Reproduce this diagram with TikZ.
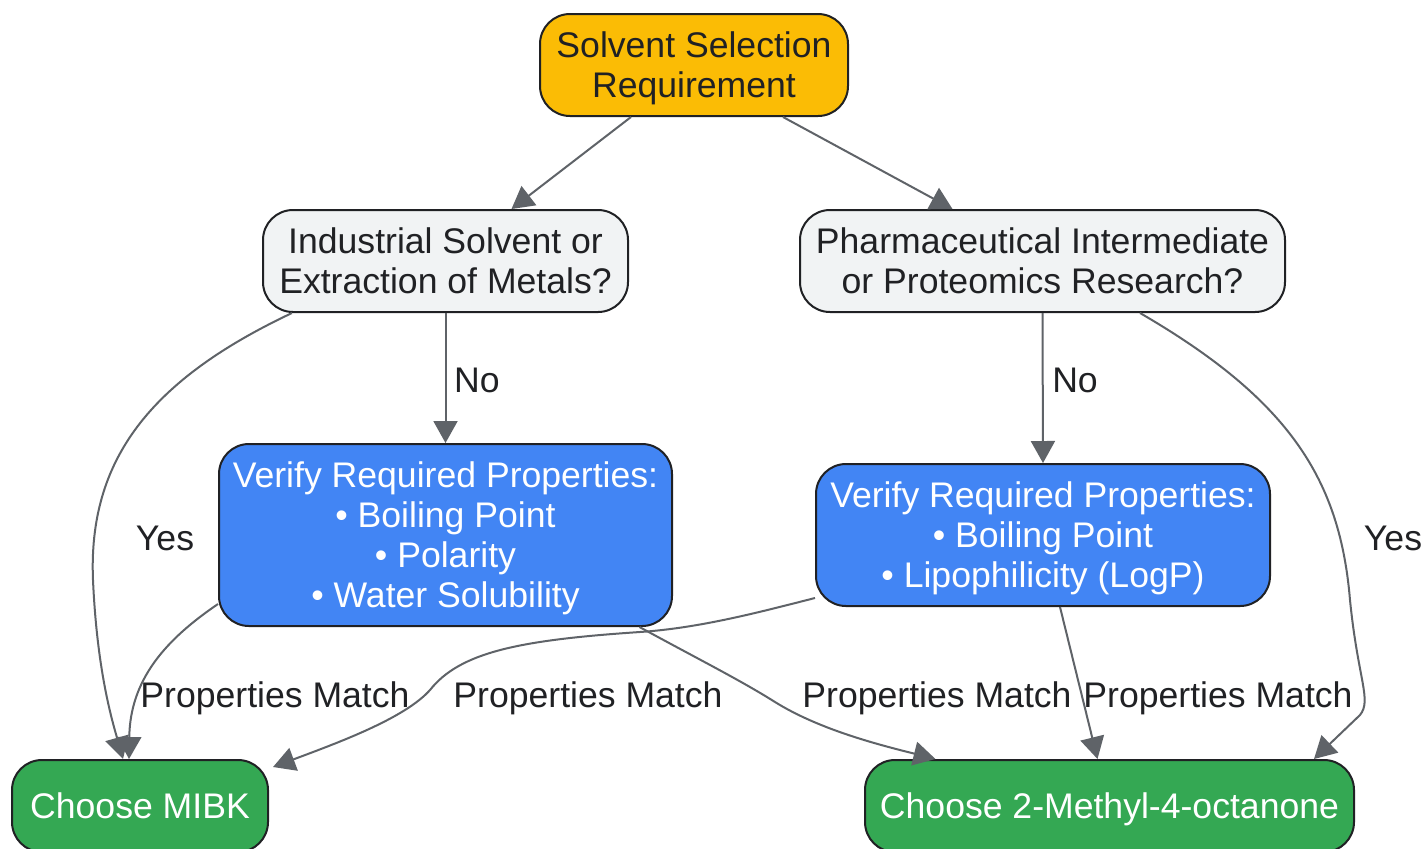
\documentclass[tikz,border=0pt]{standalone}
\usepackage{fontspec}
\setmainfont{Liberation Sans}
\usetikzlibrary{arrows.meta}
\definecolor{amber}{HTML}{FBBC05}
\definecolor{paleg}{HTML}{F1F3F4}
\definecolor{gblue}{HTML}{4285F4}
\definecolor{ggreen}{HTML}{34A853}
\definecolor{ink}{HTML}{202124}
\definecolor{wire}{HTML}{5F6368}
\tikzset{
  box/.style={draw=ink, line width=1pt, rounded corners=15pt, align=center,
    inner sep=0pt, text depth=0pt, font=\fontsize{17.8pt}{20pt}\selectfont},
  link/.style={draw=wire, line width=1pt, -{Triangle[length=11pt, width=12pt]}},
  lbl/.style={text=ink, font=\fontsize{17.8pt}{20pt}\selectfont}
}
\begin{document}
\begin{tikzpicture}[x=0.5pt, y=-0.5pt]
  \useasboundingbox (0,0) rectangle (1425,848);
  % nodes
  \node[box, fill=amber, text=ink, minimum width=154pt, minimum height=51pt]
    (start) at (694,65) {Solvent Selection\\Requirement};
  \node[box, fill=paleg, text=ink, minimum width=182.5pt, minimum height=51pt]
    (ind) at (445.5,261) {Industrial Solvent or\\Extraction of Metals?};
  \node[box, fill=paleg, text=ink, minimum width=242.5pt, minimum height=51pt]
    (pharma) at (1042.5,261) {Pharmaceutical Intermediate\\or Proteomics Research?};
  \node[box, fill=gblue, text=white, minimum width=226.5pt, minimum height=91pt]
    (verA) at (445.5,535) {Verify Required Properties:\\\textbullet{} Boiling Point\\\textbullet{} Polarity\\\textbullet{} Water Solubility};
  \node[box, fill=gblue, text=white, minimum width=227pt, minimum height=71pt]
    (verB) at (1043,535) {Verify Required Properties:\\\textbullet{} Boiling Point\\\textbullet{} Lipophilicity (LogP)};
  \node[box, fill=ggreen, text=white, minimum width=128pt, minimum height=46pt]
    (mibk) at (140,806) {Choose MIBK};
  \node[box, fill=ggreen, text=white, minimum width=244.5pt, minimum height=46pt]
    (octa) at (1109.5,806) {Choose 2-Methyl-4-octanone};

  % connectors
  \draw[link] ([xshift=-31.5pt]start.south) -- ([xshift=33pt]ind.north);
  \draw[link] ([xshift=44.5pt]start.south) -- ([xshift=-45pt]pharma.north);
  \draw[link] (ind.south) -- (verA.north);
  \draw[link] (pharma.south) -- (verB.north);
  \draw[link] ([xshift=-76.75pt]ind.south) .. controls (150,380) and (88,460) .. (93,580)
    .. controls (97,670) and (112,720) .. ([xshift=-8.5pt]mibk.north);
  \draw[link] ([yshift=-34.5pt]verA.west) .. controls (165,640) and (130,680) .. ([xshift=-5.5pt]mibk.north);
  \draw[link] ([yshift=-31.5pt]verB.west) .. controls (760,612) and (700,628) .. (640,632)
    .. controls (520,640) and (460,652) .. (430,690)
    .. controls (405,718) and (340,742) .. ([xshift=2pt, yshift=-4pt]mibk.north east);
  \draw[link] ([xshift=97pt]verA.south) .. controls (700,660) and (740,680) .. (775,702)
    .. controls (820,730) and (880,745) .. ([xshift=-87pt]octa.north);
  \draw[link] ([xshift=8.5pt]verB.south) -- ([xshift=-6pt]octa.north);
  \draw[link] ([xshift=48.75pt]pharma.south) .. controls (1290,400) and (1340,480) .. (1350,600)
    .. controls (1358,680) and (1372,700) .. (1360,715) -- ([xshift=-20.5pt]octa.north east);

  % labels
  \node[lbl] (noA) at (477,380) {No};
  \node[lbl] (noB) at (1075,380) {No};
  \node[lbl] (yesA) at (165,538) {Yes};
  \node[lbl] (yesB) at (1393,538) {Yes};
  \node[lbl] (pmA) at (275,698) {Properties Match};
  \node[lbl] (pmB) at (588,698) {Properties Match};
  \node[lbl] (pmC) at (937,698) {Properties Match};
  \node[lbl] (pmD) at (1218,698) {Properties Match};
\end{tikzpicture}
\end{document}
